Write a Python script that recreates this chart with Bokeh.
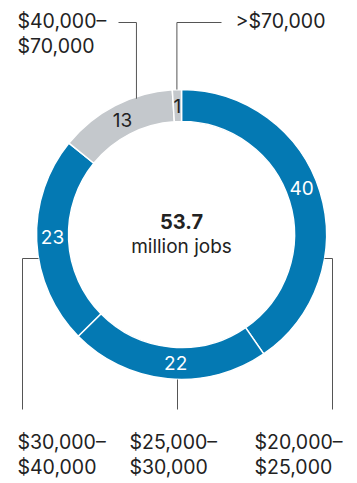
import numpy as np
from bokeh.plotting import figure
from bokeh.models import Range1d, ColumnDataSource
from bokeh.core.properties import value
from bokeh.embed import file_html
from bokeh.resources import INLINE

# ---- data ----
categories = ["$20,000–\n$25,000", "$25,000–\n$30,000", "$30,000–\n$40,000",
              "$40,000–\n$70,000", ">$70,000"]
shares = [40, 22, 23, 13, 1]
colors = ["#0479B3", "#0479B3", "#0479B3", "#C4C8CC", "#C4C8CC"]
label_colors = ["white", "white", "white", "#222222", "#222222"]
total_value = "53.7"
total_label = "million jobs"

W, H = 357, 483
FONT = value("Inter")

p = figure(width=W, height=H, x_range=Range1d(0, W), y_range=Range1d(0, H),
           output_backend="svg", toolbar_location=None, min_border=0)
p.axis.visible = False
p.grid.visible = False
p.outline_line_color = None
p.background_fill_color = "white"
p.border_fill_color = "white"

cx, cy = 181, H - 234
r_out, r_in = 145, 113

tot = float(sum(shares))
cum = np.concatenate([[0], np.cumsum(shares)]) / tot
start = np.pi / 2 - 2 * np.pi * cum[:-1]
end = np.pi / 2 - 2 * np.pi * cum[1:]
mid = (start + end) / 2
r_mid = (r_in + r_out) / 2

src = ColumnDataSource(dict(start=start, end=end, color=colors))
p.annular_wedge(x=cx, y=cy, inner_radius=r_in, outer_radius=r_out,
                start_angle="start", end_angle="end", direction="clock",
                fill_color="color", line_color="white", line_width=1.5, source=src)

# small placement tweaks of the in-ring labels (angle offsets, radians)
lab_shift = np.array([0.07, 0.05, -0.03, 0.0, 0.0])
la = mid + lab_shift
lab = ColumnDataSource(dict(
    x=cx + r_mid * np.cos(la), y=cy + r_mid * np.sin(la),
    t=[str(s) for s in shares], c=label_colors))
p.text(x="x", y="y", text="t", text_color="c", source=lab,
       text_align="center", text_baseline="middle",
       text_font=FONT, text_font_size="19px")

# center text
p.text(x=[cx], y=[cy + 13], text=[total_value], text_align="center",
       text_baseline="middle", text_font=FONT, text_font_size="20px",
       text_font_style="bold", text_color="#222222")
p.text(x=[cx], y=[cy - 12], text=[total_label], text_align="center",
       text_baseline="middle", text_font=FONT, text_font_size="19px",
       text_color="#222222")

# leader lines
lc = "#555555"
def pt(angle, r):
    return cx + r * np.cos(angle), cy + r * np.sin(angle)

top_y = H - 22
side_y = H - 258
bot_y = H - 409

# >$70,000 (index 4)
x4, y4 = pt(mid[4], r_out)
p.line([x4, x4, 221], [y4, top_y, top_y], line_color=lc, line_width=1)
# $40,000-$70,000 (index 3)
x3, y3 = pt(mid[3] - 0.16, r_out)
p.line([118, x3, x3], [top_y, top_y, y3 - 2], line_color=lc, line_width=1)
# $30,000-$40,000 (index 2) left side
xl = cx - np.sqrt(r_out ** 2 - (side_y - cy) ** 2)
p.line([xl, 22, 22], [side_y, side_y, bot_y], line_color=lc, line_width=1)
# $25,000-$30,000 (index 1) bottom
p.line([177, 177], [cy - r_out, bot_y], line_color=lc, line_width=1)
# $20,000-$25,000 (index 0) right side
xr = cx + np.sqrt(r_out ** 2 - (side_y - cy) ** 2)
p.line([xr, 332, 332], [side_y, side_y, bot_y], line_color=lc, line_width=1)

# outer category labels (left-aligned, two lines)
def two_line(x, y_top, txt):
    lines = txt.split("\n")
    ys = [H - y_top - 25 * i for i in range(len(lines))]
    p.text(x=[x] * len(lines), y=ys, text=lines, text_align="left",
           text_baseline="middle", text_font=FONT, text_font_size="19.5px",
           text_color="#222222")

two_line(17, 20, categories[3])
two_line(235, 20, categories[4])
two_line(17, 441, categories[2])
two_line(129, 441, categories[1])
two_line(254, 441, categories[0])

open("out.html", "w").write(file_html(p, INLINE))
